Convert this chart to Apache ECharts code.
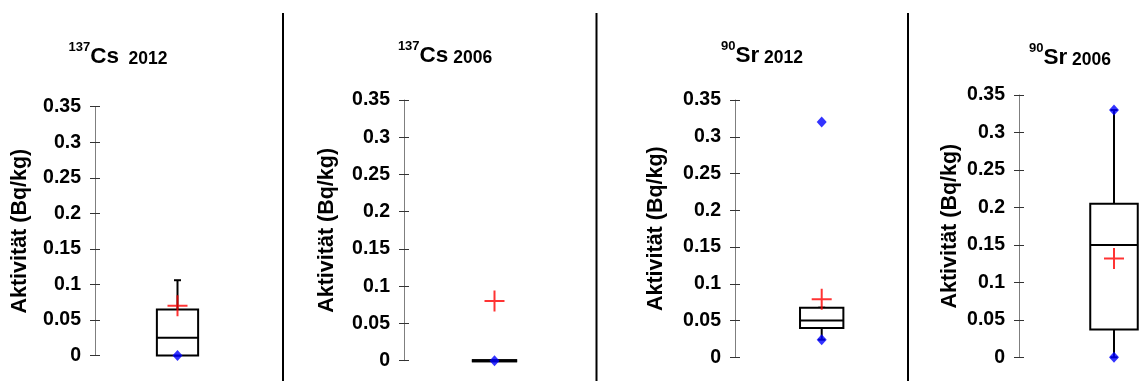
<!DOCTYPE html>
<html>
<head>
<meta charset="utf-8">
<script src="https://cdn.jsdelivr.net/npm/echarts@6/dist/echarts.min.js"></script>
<style>
  html, body { margin: 0; padding: 0; background: #fff; }
  #chart { width: 1139px; height: 381px; }
</style>
</head>
<body>
<div id="chart"></div>
<script>
// Panel names: isotope mass number, element, sampling year
const isotopes = ['137', '137', '90', '90'];
const elements = ['Cs', 'Cs', 'Sr', 'Sr'];
const years = ['2012', '2006', '2012', '2006'];

// Box statistics per panel: [lower whisker, Q1, median, Q3, upper whisker] in Bq/kg
const boxCs2012 = [0, 0, 0.025, 0.065, 0.106];
const boxCs2006 = [0, 0, 0, 0, 0];
const boxSr2012 = [0.024, 0.04, 0.05, 0.0675, 0.0675];
const boxSr2006 = [0, 0.037, 0.15, 0.205, 0.33];

// Arithmetic means (red cross)
const meanValues = [0.07, 0.08, 0.079, 0.132];

// Minimum / maximum points (blue diamonds)
const extremesCs2012 = [0];
const extremesCs2006 = [0];
const extremesSr2012 = [0.024, 0.32];
const extremesSr2006 = [0, 0.33];

const yMin = 0, yMax = 0.35, yStep = 0.05;
const axisName = 'Aktivität (Bq/kg)';

const boxes = [boxCs2012, boxCs2006, boxSr2012, boxSr2006];
const extremes = [extremesCs2012, extremesCs2006, extremesSr2012, extremesSr2006];

const FONT = '"Liberation Sans", Arial, Helvetica, sans-serif';

// Plot areas (left, top, width, height) for the four panels
const grids = [
  { left: 95,  top: 106.7, width: 165, height: 248.9 },
  { left: 404, top: 100,   width: 181, height: 260.7 },
  { left: 735, top: 100,   width: 173.4, height: 257.3 },
  { left: 1019, top: 95,   width: 190, height: 262.3 }
];
const nameGaps = [64, 66, 68, 58];
const titleCenters = [118, 445, 762, 1070];
const titleBottoms = [68, 67, 67, 69];

const chart = echarts.init(document.getElementById('chart'), null, { renderer: 'canvas' });

const xAxes = [], yAxes = [], series = [], graphics = [];

grids.forEach((g, i) => {
  xAxes.push({
    type: 'category', gridIndex: i, data: [''],
    show: false, boundaryGap: true
  });
  // outer ticks + labels + axis name
  yAxes.push({
    type: 'value', gridIndex: i, min: yMin, max: yMax, interval: yStep,
    axisLine: { show: true, lineStyle: { color: '#7f7f7f', width: 1 } },
    axisTick: { show: true, length: 5, lineStyle: { color: '#333', width: 1 } },
    axisLabel: { color: '#000', fontSize: 19.5, fontWeight: 'bold', fontFamily: FONT, margin: 14 },
    splitLine: { show: false },
    name: axisName, nameLocation: 'middle', nameGap: nameGaps[i], nameRotate: 90,
    nameTextStyle: { color: '#000', fontSize: 21.5, fontWeight: 'bold', fontFamily: FONT }
  });
  // inner half of the crossing ticks
  yAxes.push({
    type: 'value', gridIndex: i, min: yMin, max: yMax, interval: yStep,
    position: 'left',
    axisLine: { show: false },
    axisTick: { show: true, inside: true, length: 5, lineStyle: { color: '#333', width: 1 } },
    axisLabel: { show: false },
    splitLine: { show: false }
  });

  const yIdx = i * 2;

  series.push({
    type: 'custom',
    xAxisIndex: i, yAxisIndex: yIdx,
    data: [[0].concat(boxes[i])],
    z: 2,
    renderItem: function (params, api) {
      const band = api.size([1, 0])[0];
      const half = band * 0.125;
      const cap = 3.5;
      const p = (v) => api.coord([0, v]);
      const low = p(api.value(1)), q1 = p(api.value(2)), med = p(api.value(3)),
            q3 = p(api.value(4)), high = p(api.value(5));
      const cx = low[0];
      const stroke = { stroke: '#000', lineWidth: 2, fill: null };
      const flat = Math.abs(q1[1] - q3[1]) < 0.5;
      return {
        type: 'group',
        children: [
          { type: 'line', shape: { x1: cx, y1: q3[1], x2: cx, y2: high[1] }, style: stroke },
          { type: 'line', shape: { x1: cx, y1: q1[1], x2: cx, y2: low[1] }, style: stroke },
          { type: 'line', shape: { x1: cx - cap, y1: high[1], x2: cx + cap, y2: high[1] }, style: stroke },
          { type: 'line', shape: { x1: cx - cap, y1: low[1], x2: cx + cap, y2: low[1] }, style: stroke },
          { type: 'rect', shape: { x: cx - half, y: q3[1], width: half * 2, height: q1[1] - q3[1] },
            style: { stroke: '#000', lineWidth: flat ? 3 : 2, fill: '#fff' } },
          { type: 'line', shape: { x1: cx - half, y1: med[1], x2: cx + half, y2: med[1] },
            style: { stroke: '#000', lineWidth: flat ? 3 : 2 } }
        ]
      };
    }
  });

  series.push({
    type: 'scatter',
    xAxisIndex: i, yAxisIndex: yIdx,
    data: extremes[i].map(v => [0, v]),
    symbol: 'diamond', symbolSize: [10, 11],
    itemStyle: { color: '#0000ff' },
    z: 4, silent: true
  });

  series.push({
    type: 'scatter',
    xAxisIndex: i, yAxisIndex: yIdx,
    data: [[0, meanValues[i]]],
    symbol: 'path://M9,0h2v21h-2z M0,9.5h20v2h-20z', symbolSize: [20, 21],
    itemStyle: { color: '#ff0000' },
    z: 5, silent: true
  });

  const gap = (i === 0) ? '  ' : ' ';
  graphics.push({
    type: 'text',
    x: titleCenters[i], y: titleBottoms[i],
    style: {
      text: '{sup|' + isotopes[i] + '}{el|' + elements[i] + '}{yr|' + gap + years[i] + '}',
      align: 'center', verticalAlign: 'bottom',
      rich: {
        sup: { fontSize: 13, fontWeight: 'bold', fontFamily: FONT, fill: '#000', verticalAlign: 'top', lineHeight: 27 },
        el: { fontSize: 22.5, fontWeight: 'bold', fontFamily: FONT, fill: '#000', verticalAlign: 'bottom', lineHeight: 27 },
        yr: { fontSize: 17.5, fontWeight: 'bold', fontFamily: FONT, fill: '#000', verticalAlign: 'bottom', lineHeight: 27 }
      }
    }
  });
});

// Separators between the panels
[283, 596.5, 908].forEach(x => {
  graphics.push({
    type: 'line',
    shape: { x1: x, y1: 13, x2: x, y2: 381 },
    style: { stroke: '#000', lineWidth: 2 }
  });
});

chart.setOption({
  animation: false,
  backgroundColor: '#fff',
  grid: grids.map(g => Object.assign({ containLabel: false, outerBoundsMode: 'none' }, g)),
  xAxis: xAxes,
  yAxis: yAxes,
  series: series,
  graphic: graphics
});
</script>
</body>
</html>
